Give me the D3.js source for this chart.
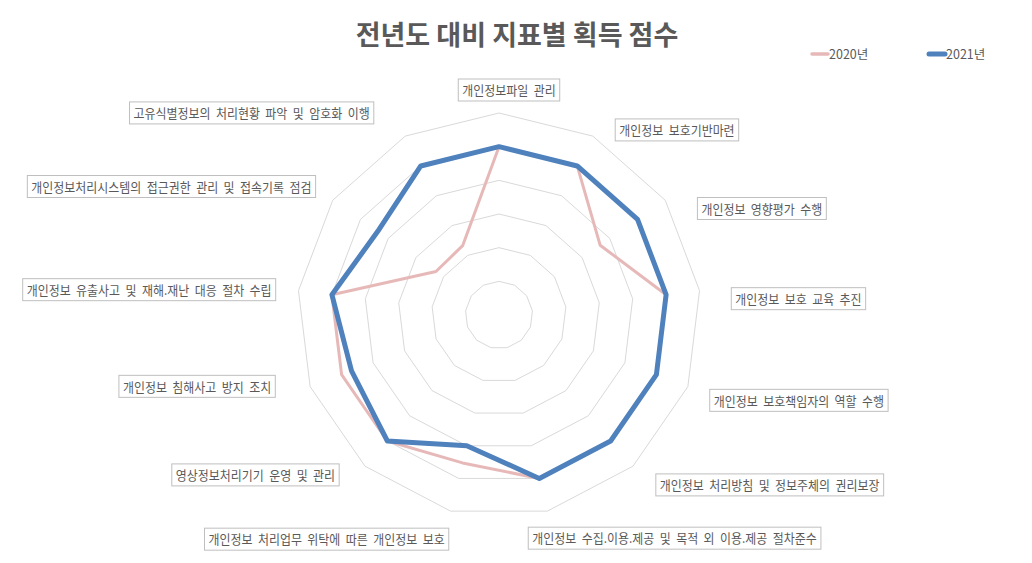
<!DOCTYPE html>
<html>
<head>
<meta charset="utf-8">
<script src="https://cdn.jsdelivr.net/npm/d3@7"></script>
<style>
  html, body { margin: 0; padding: 0; background: #fff; }
  svg { display: block; }
</style>
</head>
<body>
<svg id="chart" width="1032" height="563"></svg>
<script>
// ---- data ----
const categories = [
  "개인정보파일 관리",
  "개인정보 보호기반마련",
  "개인정보 영향평가 수행",
  "개인정보 보호 교육 추진",
  "개인정보 보호책임자의 역할 수행",
  "개인정보 처리방침 및 정보주체의 권리보장",
  "개인정보 수집.이용.제공 및 목적 외 이용.제공 절차준수",
  "개인정보 처리업무 위탁에 따른 개인정보 보호",
  "영상정보처리기기 운영 및 관리",
  "개인정보 침해사고 방지 조치",
  "개인정보 유출사고 및 재해.재난 대응 절차 수립",
  "개인정보처리시스템의 접근권한 관리 및 접속기록 점검",
  "고유식별정보의 처리현황 파악 및 암호화 이행"
];
const values2020 = [100, 100, 73, 100, 100, 100, 100, 90.5, 100, 100, 100, 45.5, 46.5];
const values2021 = [100, 100, 100, 100, 100, 100, 100, 80, 100, 93.7, 100, 87.5, 100];
const gridTicks = [20, 40, 60, 80, 100, 120];
const seriesNames = ["2020년", "2021년"];
const titleText = "전년도 대비 지표별 획득 점수";

// ---- layout (not data) ----
const W = 1032, H = 563;
const cx = 499, cy = 315, outerR = 202;
const labelR = 235;
// small per-label adjustments of the category label boxes (Excel-like placement)
const labelNudge = [
  [10, 10], [7, 23], [5, 27], [-1, 12], [-9, 2], [1, -6], [-27, -5],
  [6, -4], [-4, -16], [-4, -12], [10, 3], [10, 5], [-16, 6]
];
const colors = { s2020: "#E6B9B8", s2021: "#4F81BD", grid: "#D9D9D9", text: "#595959", box: "#BFBFBF" };

const svg = d3.select("#chart");
svg.append("rect").attr("width", W).attr("height", H).attr("fill", "#fff");

const n = categories.length;
const rScale = d3.scaleLinear().domain([0, 120]).range([0, outerR]);
const aScale = d3.scaleLinear().domain([0, n]).range([0, 2 * Math.PI]);

const g = svg.append("g").attr("transform", `translate(${cx},${cy})`);

const radial = d3.lineRadial()
  .angle((d, i) => aScale(i))
  .radius(d => rScale(d))
  .curve(d3.curveLinearClosed);

// grid rings
g.append("g").selectAll("path")
  .data(gridTicks)
  .join("path")
  .attr("d", t => radial(d3.range(n).map(() => t)))
  .attr("fill", "none")
  .attr("stroke", colors.grid)
  .attr("stroke-width", 1);

// series
g.append("path")
  .attr("d", radial(values2020))
  .attr("fill", "none")
  .attr("stroke", colors.s2020)
  .attr("stroke-width", 3)
  .attr("stroke-linejoin", "round");

g.append("path")
  .attr("d", radial(values2021))
  .attr("fill", "none")
  .attr("stroke", colors.s2021)
  .attr("stroke-width", 5)
  .attr("stroke-linejoin", "round");

// category labels
const fontFam = "'Noto Sans CJK KR', 'Noto Sans', sans-serif";
const sx = 0.92;
const boxH = 22, pad = 4;
const labG = svg.append("g");
categories.forEach((c, i) => {
  const a = aScale(i);
  const s = Math.sin(a), co = Math.cos(a);
  const px = cx + labelR * s, py = cy - labelR * co;
  const lg = labG.append("g");
  const t = lg.append("text")
    .attr("font-family", fontFam)
    .attr("font-size", 13)
    .attr("word-spacing", "3px")
    .attr("fill", colors.text)
    .attr("dominant-baseline", "central")
    .text(c);
  const tw = t.node().getComputedTextLength() * sx;
  const bw = tw + pad * 2;
  let left;
  if (s > 0.1) left = px;
  else if (s < -0.1) left = px - bw;
  else left = px - bw / 2;
  left += labelNudge[i][0];
  const ccy = py + labelNudge[i][1];
  lg.insert("rect", "text")
    .attr("x", left).attr("y", ccy - boxH / 2)
    .attr("width", bw).attr("height", boxH)
    .attr("fill", "#fff")
    .attr("stroke", colors.box)
    .attr("stroke-width", 1);
  t.attr("transform", `translate(${left + pad},${ccy}) scale(${sx},1)`);
});

// title
svg.append("text")
  .attr("x", 517).attr("y", 33)
  .attr("text-anchor", "middle")
  .attr("dominant-baseline", "central")
  .attr("font-family", fontFam)
  .attr("font-weight", "bold")
  .attr("font-size", 27)
  .attr("fill", colors.text)
  .text(titleText);

// legend
const legend = svg.append("g");
const legendX = [812, 929];
const legendColors = [colors.s2020, colors.s2021];
const legendW = [3.5, 5];
seriesNames.forEach((name, i) => {
  legend.append("line")
    .attr("x1", legendX[i]).attr("x2", legendX[i] + 16)
    .attr("y1", 54).attr("y2", 54)
    .attr("stroke", legendColors[i])
    .attr("stroke-width", legendW[i])
    .attr("stroke-linecap", "round");
  legend.append("text")
    .attr("x", legendX[i] + 17).attr("y", 53)
    .attr("dominant-baseline", "central")
    .attr("font-family", fontFam)
    .attr("font-size", 12.5)
    .attr("fill", colors.text)
    .text(name);
});
</script>
</body>
</html>
